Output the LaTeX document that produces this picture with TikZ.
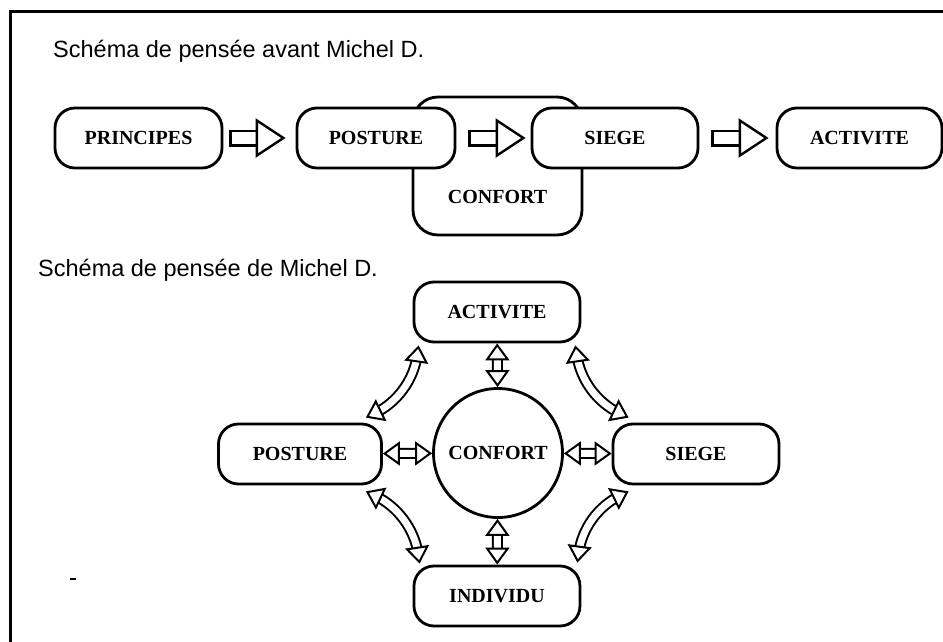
\documentclass[tikz,border=0pt]{standalone}
\usepackage{fontspec}
\setmainfont{Liberation Serif}
\newfontfamily\titlefont{Liberation Sans}
\usetikzlibrary{arrows.meta, positioning, shapes.geometric}
\tikzset{
    box/.style={draw, line width=2.8pt, rounded corners=20pt, fill=white, minimum height=60pt, inner sep=0pt, font=\fontsize{20}{24}\selectfont\bfseries},
    backbox/.style={draw, line width=2.8pt, rounded corners=25pt, minimum width=169pt, minimum height=138pt, inner sep=0pt},
    lbl/.style={inner sep=0pt, font=\fontsize{20}{24}\selectfont\bfseries},
    heading/.style={anchor=base west, inner sep=0pt, font=\titlefont\fontsize{23.5}{28}\selectfont},
    bighead/.tip={Triangle[width=39pt 0, length=30pt 0, color=black, fill=white]},
    smallhead/.tip={Triangle[width=24pt 0, length=17pt 0, color=black, fill=white]},
    bigarrow/.style={draw=white, line width=2.4pt, shorten <=3pt, -{bighead},
        preaction={draw=black, arrows=-, line width=17pt, shorten <=0pt, shorten >=18pt},
        preaction={draw=white, arrows=-, line width=12.2pt, shorten <=2.4pt, shorten >=18pt}},
    smallarrow/.style={draw=white, line width=2pt, {smallhead}-{smallhead},
        preaction={draw=black, arrows=-, line width=11pt, shorten <=10pt, shorten >=10pt},
        preaction={draw=white, arrows=-, line width=7pt, shorten <=10pt, shorten >=10pt}}
}

\begin{document}
\begin{tikzpicture}[x=1pt, y=-1pt]
    \useasboundingbox (0,0) rectangle (943,642);
    \draw[line width=3pt] (10.5,642) -- (10.5,11.5) -- (943,11.5);

    % avant
    \node[heading] (titre1) at (53,58) {Schéma de pensée avant Michel D.};
    \node[backbox] (confortbg) at (497.5,166) {};
    \node[lbl] (confort) at (497.5,197) {CONFORT};
    \node[box, minimum width=167pt] (principes) at (138.5,138) {PRINCIPES};
    \node[box, minimum width=158pt] (posture) at (376,138) {POSTURE};
    \node[box, minimum width=166pt] (siege) at (615,138) {SIEGE};
    \node[box, minimum width=165pt] (activite) at (859.5,138) {ACTIVITE};
    \draw[bigarrow] ([xshift=6pt]principes.east) -- ([xshift=-10pt]posture.west);
    \draw[bigarrow] ([xshift=12pt]posture.east) -- ([xshift=-5pt]siege.west);
    \draw[bigarrow] ([xshift=12pt]siege.east) -- ([xshift=-7pt]activite.west);

    % Michel D.
    \node[heading] (titre2) at (38,276) {Schéma de pensée de Michel D.};
    \node[draw, circle, line width=2.8pt, minimum size=129pt, inner sep=0pt, font=\fontsize{20}{24}\selectfont\bfseries] (confort2) at (498,453) {CONFORT};
    \node[box, minimum width=166pt] (activite2) at (497,312) {ACTIVITE};
    \node[box, minimum width=163pt] (posture2) at (300,454) {POSTURE};
    \node[box, minimum width=166pt] (siege2) at (696,454) {SIEGE};
    \node[box, minimum width=166pt] (individu2) at (497,596) {INDIVIDU};
    \draw[smallarrow] (activite2) -- (confort2);
    \draw[smallarrow] (confort2) -- (individu2);
    \draw[smallarrow] (posture2) -- (confort2);
    \draw[smallarrow] (confort2) -- (siege2);
    \draw[smallarrow] ([xshift=-17pt,yshift=5pt]posture2.north east) to[bend right=28] ([xshift=6pt,yshift=-2pt]activite2.south west);
    \draw[smallarrow] ([xshift=-6pt,yshift=-2pt]activite2.south east) to[bend right=28] ([xshift=17pt,yshift=5pt]siege2.north west);
    \draw[smallarrow] ([xshift=-17pt,yshift=-6pt]posture2.south east) to[bend left=28] ([xshift=7pt,yshift=1pt]individu2.north west);
    \draw[smallarrow] ([xshift=17pt,yshift=-6pt]siege2.south west) to[bend right=28] ([xshift=-4pt,yshift=2pt]individu2.north east);
    \draw[line width=2.5pt] (70,579) -- (76,579);
\end{tikzpicture}
\end{document}
